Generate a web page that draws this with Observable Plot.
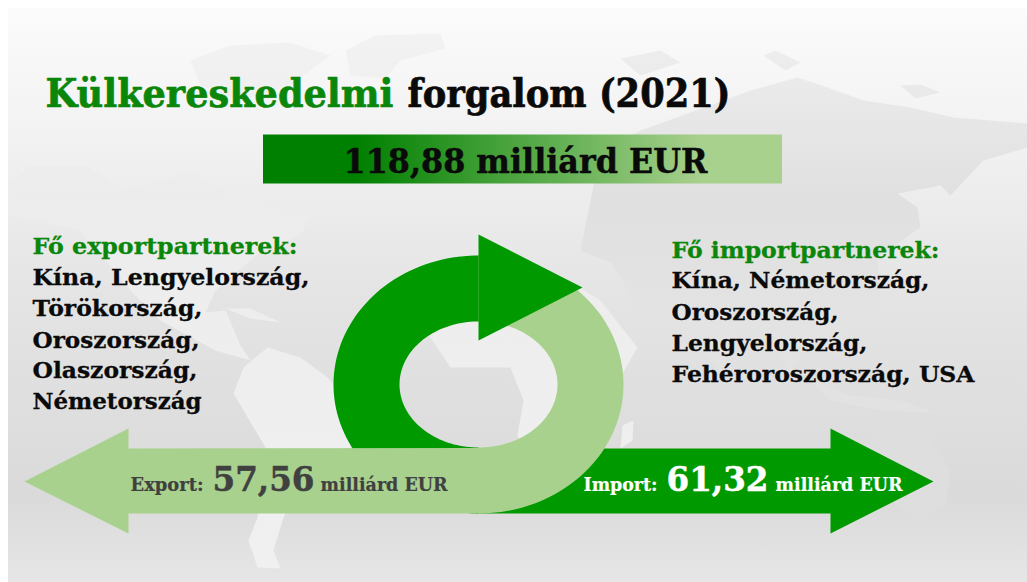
<!DOCTYPE html>
<html lang="hu">
<head>
<meta charset="utf-8">
<script src="https://cdn.jsdelivr.net/npm/d3@7"></script>
<script src="https://cdn.jsdelivr.net/npm/@observablehq/plot@0.6"></script>
<style>
html,body{margin:0;padding:0;background:#fff;overflow:hidden}
svg{display:block}
</style>
</head>
<body>
<div id="chart"></div>
<script>
// ---- Content ----
const titleWords = ["Külkereskedelmi", "forgalom (2021)"];
const totalValue = "118,88";
const unit = "milliárd EUR";
const exportHeading = "Fő exportpartnerek:";
const exportPartners = ["Kína, Lengyelország,", "Törökország,", "Oroszország,", "Olaszország,", "Németország"];
const importHeading = "Fő importpartnerek:";
const importPartners = ["Kína, Németország,", "Oroszország,", "Lengyelország,", "Fehéroroszország, USA"];
const exportLabel = "Export:";
const exportValue = "57,56";
const importLabel = "Import:";
const importValue = "61,32";

// ---- Layout of the infographic (page pixels through identity scales) ----
const W = 1027, H = 582;
const GREEN = "#009900", LIGHT = "#a9d18e", TITLE_GREEN = "#0a870a", INK = "#0a0a0a", GREY = "#404040";
const FONT = "'DejaVu Serif', serif";

const pts = a => a.map(([x, y]) => ({x, y}));
const cx = 478, cy = 384;
const arc = (rx, ry, from, to, n = 80) =>
  d3.range(n + 1).map(i => {
    const t = (from + (to - from) * i / n) * Math.PI / 180;
    return [cx + rx * Math.cos(t), cy + ry * Math.sin(t)];
  });

const ringRight = [...arc(145, 129, -90, 90), ...arc(79, 63, 90, -90)];
const ringLeft = [...arc(145, 129, 90, 271), ...arc(79, 63, 271, 90)];
const headTop = [[478, 234], [582, 287], [478, 340]];
const arrowImport = [[476, 448], [830, 448], [830, 428], [933, 481], [830, 533], [830, 513], [476, 513]];
const arrowExport = [[480, 447.5], [128, 448], [128, 428], [24, 481], [128, 533], [128, 513], [480, 513]];

const northLand = [
  // Greenland and Arctic Canada
  [[345,50],[375,35],[440,33],[445,48],[400,60],[385,78],[350,75]],
  [[190,60],[230,45],[290,42],[330,55],[290,85],[240,100],[200,85]],
  // North and Central America
  [[8,185],[30,165],[85,165],[125,190],[190,172],[240,200],[310,215],[300,235],[262,250],[215,290],[205,312],[225,310],[240,345],[250,360],[215,350],[160,320],[130,290],[80,230],[8,215]],
  // Caribbean
  [[225,308],[250,308],[280,322],[250,318]],
  // South America
  [[243,367],[267,347],[300,357],[327,377],[347,400],[350,447],[300,480],[283,517],[273,550],[280,568],[257,567],[248,540],[257,517],[265,447],[233,393]],
  // Africa
  [[400,310],[440,270],[500,265],[560,275],[600,300],[637,347],[612,390],[590,440],[560,480],[530,470],[517,435],[523,400],[510,367],[450,367],[430,337]],
  // Madagascar
  [[622,425],[633,420],[632,440],[620,448]]
];
const eastLand = [
  // Eurasia
  [[600,150],[640,130],[690,112],[750,90],[797,77],[827,87],[863,100],[910,107],[953,117],[1027,123],[1027,147],[983,160],[950,195],[960,205],[940,185],[897,193],[917,207],[920,227],[877,257],[880,300],[850,330],[835,355],[805,345],[790,372],[770,335],[740,322],[720,372],[690,335],[640,310],[610,262],[580,250],[590,200]],
  // Arctic islands
  [[763,55],[775,50],[800,62],[785,70]],
  [[900,85],[920,84],[940,92],[915,98]],
  [[620,58],[660,50],[680,62],[640,75]],
  // Indonesia
  [[810,380],[850,395],[900,400],[935,412],[880,410],[830,400]]
];
const australia = [[858,450],[895,425],[925,428],[950,470],[945,505],[915,518],[890,500],[860,505]];

const textRows = [
  {t: titleWords[0], x: 45, y: 106, s: 40, w: 348, f: TITLE_GREEN, k: .7},
  {t: titleWords[1], x: 407, y: 106, s: 40, w: 323, f: INK, k: .7},
  {t: `${totalValue} ${unit}`, x: 343, y: 172, s: 34, w: 364, f: INK, k: .5},
  {t: exportHeading, x: 32, y: 253, s: 23, w: 265, f: TITLE_GREEN, k: .3},
  ...exportPartners.map((t, i) => ({t, x: 32, y: [284, 315, 347, 377, 408][i], s: 23, w: [277, 170, 167, 165, 169][i], f: INK, k: .3})),
  {t: importHeading, x: 671, y: 257, s: 23, w: 268, f: TITLE_GREEN, k: .3},
  ...importPartners.map((t, i) => ({t, x: 671, y: [287, 319, 350, 381][i], s: 23, w: [258, 167, 196, 303][i], f: INK, k: .3})),
  {t: exportLabel, x: 130, y: 490, s: 18, w: 73, f: GREY, k: .2},
  {t: exportValue, x: 212, y: 490, s: 34, w: 102, f: GREY, k: .5},
  {t: unit, x: 320, y: 490, s: 18, w: 127, f: GREY, k: .2},
  {t: importLabel, x: 583, y: 490, s: 18, w: 74, f: "#fff", k: .2},
  {t: importValue, x: 666, y: 490, s: 34, w: 102, f: "#fff", k: .5},
  {t: unit, x: 775, y: 490, s: 18, w: 127, f: "#fff", k: .2}
];

const defs = () => {
  const ns = "http://www.w3.org/2000/svg";
  const g = document.createElementNS(ns, "g");
  g.innerHTML = `<defs>
    <linearGradient id="bg" x1="0" y1="0" x2="0" y2="1">
      <stop offset="0" stop-color="#fbfbfb"/><stop offset=".2" stop-color="#f3f3f3"/>
      <stop offset=".5" stop-color="#e4e4e4"/><stop offset=".85" stop-color="#dadada"/>
      <stop offset="1" stop-color="#e6e6e6"/>
    </linearGradient>
    <linearGradient id="landN" gradientUnits="userSpaceOnUse" x1="0" y1="30" x2="0" y2="570">
      <stop offset="0" stop-color="#f2f2f2"/><stop offset=".3" stop-color="#ececec"/>
      <stop offset=".6" stop-color="#eeeeee"/><stop offset="1" stop-color="#f0f0f0"/>
    </linearGradient>
    <linearGradient id="landE" gradientUnits="userSpaceOnUse" x1="0" y1="50" x2="0" y2="420">
      <stop offset="0" stop-color="#ededed"/><stop offset=".4" stop-color="#e0e0e0"/>
      <stop offset=".7" stop-color="#e3e3e3"/><stop offset="1" stop-color="#e2e2e2"/>
    </linearGradient>
    <linearGradient id="bar" x1="0" y1="0" x2="1" y2="0">
      <stop offset=".18" stop-color="#008000"/><stop offset=".85" stop-color="#a9d18e"/>
    </linearGradient>
  </defs>`;
  return g;
};

const shape = (coords, fill) => Plot.line(pts(coords), {x: "x", y: "y", fill, stroke: "none"});

const label = r => Plot.text([r], {
  x: "x", y: "y", text: "t",
  textAnchor: "start", lineAnchor: "bottom",
  fill: r.f, stroke: r.f, strokeWidth: r.k, fontSize: r.s, fontWeight: 700, fontFamily: FONT,
  render(index, scales, values, dims, ctx, next) {
    const g = next(index, scales, values, dims, ctx);
    g.querySelectorAll("text").forEach(el => {
      el.setAttribute("textLength", r.w);
      el.setAttribute("lengthAdjust", "spacingAndGlyphs");
    });
    return g;
  }
});

const chart = Plot.plot({
  width: W, height: H, margin: 0,
  x: {domain: [0, W], range: [0, W], axis: null},
  y: {domain: [0, H], range: [0, H], axis: null},
  style: {background: "#fff", fontFamily: FONT},
  marks: [
    defs,
    Plot.rect([{}], {x1: () => 8, x2: () => W, y1: () => 8, y2: () => H, fill: "url(#bg)"}),
    ...northLand.map(c => shape(c, "url(#landN)")),
    ...eastLand.map(c => shape(c, "url(#landE)")),
    shape(australia, "#dedede"),
    Plot.rect([{}], {x1: () => 263, x2: () => 782, y1: () => 134.5, y2: () => 183.5, fill: "url(#bar)"}),
    shape(arrowImport, GREEN),
    shape(ringLeft, GREEN),
    shape(ringRight, LIGHT),
    shape(arrowExport, LIGHT),
    shape(headTop, GREEN),
    ...textRows.map(label)
  ]
});
document.getElementById("chart").append(chart);
</script>
</body>
</html>
